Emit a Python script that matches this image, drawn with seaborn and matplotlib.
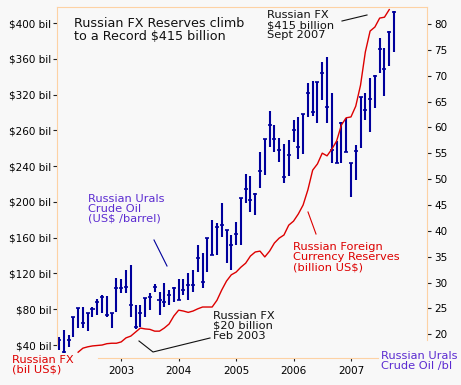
import pandas as pd
import seaborn as sns
import matplotlib.pyplot as plt
from matplotlib.lines import Line2D


# monthly Urals crude bars, Dec 2001 .. Oct 2007
months = pd.date_range('2001-12-01', periods=71, freq='MS')

oil_high = [19.5, 20.8, 19.9, 23.3, 25.1, 25.3, 24.1, 25.3, 26.8, 27.6,
            27.4, 24.1, 30.9, 30.7, 32.4, 33.4, 25.7, 25.7, 27.0, 28.0,
            29.7, 28.2, 29.9, 28.6, 29.1, 30.7, 30.7, 31.9, 32.4, 37.3,
            35.7, 38.6, 42.1, 41.5, 45.4, 40.2, 39.2, 41.7, 46.4, 51.0,
            50.6, 47.3, 55.3, 57.8, 63.2, 60.5, 58.0, 56.8, 57.6, 61.4,
            62.0, 62.6, 68.6, 69.0, 68.8, 72.7, 73.6, 66.7, 57.4, 61.1,
            61.8, 53.1, 56.6, 65.9, 66.7, 69.6, 70.1, 77.3, 75.4, 78.6, 82.5]
oil_low = [17.0, 16.4, 17.5, 19.5, 21.2, 21.2, 20.6, 23.3, 23.7, 24.1,
           23.3, 21.2, 24.3, 28.0, 28.0, 23.3, 21.0, 21.4, 23.3, 24.7,
           28.2, 23.7, 25.3, 25.7, 26.2, 26.6, 27.6, 26.6, 28.2, 32.0,
           29.0, 32.0, 35.3, 35.3, 38.8, 33.8, 32.4, 37.3, 37.3, 45.4,
           43.7, 43.1, 48.3, 50.8, 56.2, 55.3, 53.3, 49.3, 50.6, 57.2,
           53.9, 54.9, 62.0, 62.2, 60.9, 65.3, 60.9, 53.1, 53.1, 53.1,
           55.3, 46.6, 49.8, 56.0, 61.4, 59.1, 63.8, 70.5, 66.1, 71.9, 74.6]
oil_close = [18.9, 16.6, 18.9, 23.3, 25.1, 22.2, 24.1, 24.9, 26.2, 27.2,
             23.7, 24.1, 29.0, 29.0, 29.1, 25.7, 21.4, 24.1, 27.0, 27.2,
             29.1, 26.6, 26.2, 27.6, 29.0, 26.6, 28.6, 29.5, 29.5, 34.8,
             30.1, 38.6, 35.3, 40.8, 41.1, 40.2, 37.3, 39.4, 46.4, 48.1,
             46.0, 47.1, 51.6, 57.8, 60.5, 57.8, 55.6, 50.4, 54.7, 59.5,
             56.2, 62.6, 66.7, 63.0, 68.8, 70.5, 64.0, 55.6, 53.1, 60.9,
             55.3, 53.1, 55.4, 65.9, 63.4, 65.5, 69.9, 75.2, 71.3, 78.5, 82.3]

# reserves, Apr 2002 .. Sep 2007 (billion US$)
fx_reserves = [32, 36.5, 38, 39, 39.5, 40, 41.5, 42, 42, 43.5,
               48, 50, 54.5, 59, 58, 57.5, 55.5, 55.5, 59, 63.5,
               72.5, 79, 78, 76.5, 78, 80.5, 82.5, 82.5, 82.5, 90,
               101.5, 111.5, 118.5, 121.5, 127, 131.5, 139.5, 144, 145, 138.5,
               145, 154, 159.5, 163, 174, 178.5, 186.5, 196.5, 213.5, 235.5,
               242.5, 254.5, 251.5, 259, 268, 286, 294, 295, 307, 330.5,
               367.5, 391, 395.5, 405.5, 406.5, 415]

years = [2003, 2004, 2005, 2006, 2007]
left_ticks = [40, 80, 120, 160, 200, 240, 280, 320, 360, 400]
left_labels = ['$40 bil', '$80 bil', '$120 bil', '$160 bil', '$200 bil',
               '$240 bil', '$260 bil', '$320 bil', '$360 bil', '$400 bil']
right_ticks = [20, 25, 30, 35, 40, 45, 50, 55, 60, 65, 70, 75, 80]

W, H = 461, 385
bg = '#f8f8f8'
edge = '#fdd2a4'
navy = '#00009c'
red = '#dd0000'
purple = '#5b2bd1'


def fx(px):
    return px / W


def fy(py):
    return 1 - py / H


fig = plt.figure(figsize=(W / 100, H / 100), dpi=100, facecolor=bg)
ax = fig.add_axes([fx(57), fy(358), 370 / W, 351 / H])
ax2 = ax.twinx()
ax2.set_facecolor(bg)

x_oil = months.year + (months.month - 1) / 12

# oil price bars
ax2.vlines(x_oil, oil_low, oil_high, color=navy, lw=1.5)
ax2.hlines(oil_close, x_oil - 0.035, x_oil + 0.035, color=navy, lw=1.2)

# reserves line on top
ax.set_zorder(ax2.get_zorder() + 1)
ax.patch.set_visible(False)
sns.lineplot(x=x_oil[4:70], y=fx_reserves, ax=ax, color=red, lw=1.0)

ax.set_xlim(2001.882, 2008.324)
ax.set_ylim(25.5, 417.9)
ax2.set_ylim(15.4, 83.3)

ax.set_yticks(left_ticks, left_labels)
ax2.set_yticks(right_ticks)
ax.set_xticks(years, [str(y) for y in years])
ax.set_xlabel('')
ax.set_ylabel('')

ax.tick_params(axis='y', length=3, width=0.8, color='#222222', labelsize=7.5, pad=1)
ax2.tick_params(axis='y', length=3, width=0.8, color='#222222', labelsize=7.5, pad=2)
ax.tick_params(axis='x', length=2, width=0.8, color='#222222', labelsize=7.5, pad=4)

for s in ['top', 'bottom', 'left', 'right']:
    ax.spines[s].set_color(edge)
    ax2.spines[s].set_color(edge)
    ax2.spines[s].set_visible(s == 'right')
ax.spines['right'].set_visible(False)
ax.spines['bottom'].set_bounds(2002.596, 2007.47)
ax.spines['left'].set_bounds(40, 417.9)
ax2.spines['right'].set_bounds(18.9, 83.3)

# texts
fig.text(fx(74), fy(17), 'Russian FX Reserves climb\nto a Record $415 billion',
         fontsize=9.2, va='top', ha='left', color='#111111', linespacing=1.05)
fig.text(fx(88), fy(194), 'Russian Urals\nCrude Oil\n(US$ /barrel)',
         fontsize=8.2, va='top', ha='left', color=purple, linespacing=1.0)
fig.text(fx(213), fy(311), 'Russian FX\n$20 billion\nFeb 2003',
         fontsize=8.2, va='top', ha='left', color='#111111', linespacing=1.0)
fig.text(fx(267), fy(10), 'Russian FX\n$415 billion\nSept 2007',
         fontsize=8.2, va='top', ha='left', color='#111111', linespacing=1.0)
fig.text(fx(293), fy(242), 'Russian Foreign\nCurrency Reserves\n(billion US$)',
         fontsize=8.2, va='top', ha='left', color=red, linespacing=1.0)
fig.text(fx(12), fy(355), 'Russian FX\n(bil US$)',
         fontsize=8.2, va='top', ha='left', color=red, linespacing=1.0)
fig.text(fx(381), fy(351), 'Russian Urals\nCrude Oil /bl',
         fontsize=8.2, va='top', ha='left', color=purple, linespacing=1.0)

# leader lines
fig.add_artist(Line2D([fx(154), fx(167)], [fy(240), fy(266)], color=navy, lw=0.8))
fig.add_artist(Line2D([fx(139), fx(153), fx(210)], [fy(341), fy(352), fy(338)],
                      color='#111111', lw=0.8))
fig.add_artist(Line2D([fx(342), fx(367)], [fy(21), fy(15)], color='#111111', lw=0.8))
fig.add_artist(Line2D([fx(308), fx(316)], [fy(212), fy(234)], color=red, lw=0.8))

plt.savefig('out.png', dpi=100, facecolor=bg)
